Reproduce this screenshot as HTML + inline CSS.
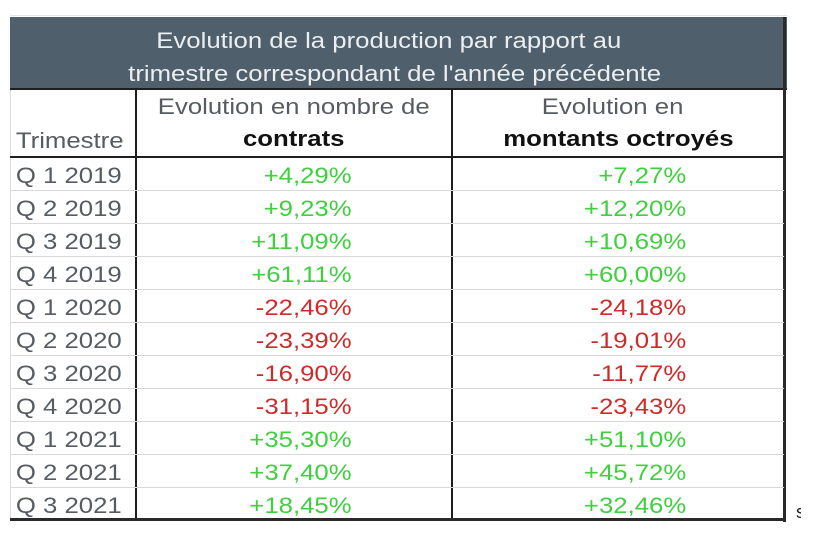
<!DOCTYPE html>
<html><head><meta charset="utf-8"><style>
html,body{margin:0;padding:0;background:#fff;width:817px;height:540px;overflow:hidden;position:relative;}
.abs{position:absolute;}
.hdr{left:10px;top:17px;width:777px;height:72px;background:#4f5f6b;}
.hl{position:absolute;height:2px;background:#1e1e1e;}
.vl{position:absolute;width:2px;background:#1e1e1e;}
.rl{position:absolute;left:11px;width:773px;height:1px;background:#d9d9d9;}
#t{position:absolute;left:10px;top:0;width:664px;height:540px;transform:scaleX(1.17);transform-origin:0 0;
 font-family:"Liberation Sans",Arial,sans-serif;font-size:22px;line-height:22px;}
#t div{position:absolute;white-space:nowrap;}
.w{color:#eceff1;}
.g1{color:#565c62;}
.b{font-weight:bold;color:#111;}
.lab{left:5px;color:#565c62;}
.c1{left:0;width:292px;text-align:right;}
.c2{left:0;width:578px;text-align:right;}
.gr{color:#3fcf3f;}
.rd{color:#cf2a2a;}
</style></head><body>
<div class="abs" style="left:10px;top:15px;width:777px;height:1px;background:#e4e4e4;"></div>
<div class="abs hdr"></div>
<div class="abs" style="left:10px;top:89px;width:1px;height:431px;background:#dcdcdc;"></div>
<div class="hl" style="left:10px;top:88px;width:777px;"></div>
<div class="hl" style="left:10px;top:156px;width:776px;"></div>
<div class="vl" style="left:135px;top:89px;height:432px;"></div>
<div class="vl" style="left:451px;top:89px;height:432px;"></div>
<div class="abs" style="left:783px;top:17px;width:3px;height:505px;background:#2a2a2a;"></div>
<div class="abs" style="left:10px;top:518px;width:776px;height:3px;background:#2a2a2a;"></div>
<div class="rl" style="top:190px;"></div>
<div class="rl" style="top:223px;"></div>
<div class="rl" style="top:256px;"></div>
<div class="rl" style="top:289px;"></div>
<div class="rl" style="top:322px;"></div>
<div class="rl" style="top:355px;"></div>
<div class="rl" style="top:388px;"></div>
<div class="rl" style="top:421px;"></div>
<div class="rl" style="top:454px;"></div>
<div class="rl" style="top:487px;"></div>
<div class="abs" style="left:796px;top:503px;width:5px;height:18px;overflow:hidden;font-family:'Liberation Sans',sans-serif;font-size:18px;line-height:18px;color:#222;">s</div>

<div id="t">
<div class="w" style="left:125px;top:30px;">Evolution de la production par rapport au</div>
<div class="w" style="left:101px;top:63px;">trimestre correspondant de l'année précédente</div>

<div class="g1" style="left:107px;width:271px;text-align:center;top:96px;">Evolution en nombre de</div>
<div class="b" style="left:107px;width:271px;text-align:center;top:128px;">contrats</div>
<div class="lab" style="top:130px;">Trimestre</div>
<div class="g1" style="left:378px;width:274px;text-align:center;top:96px;">Evolution en</div>
<div class="b" style="left:378px;width:284px;text-align:center;top:128px;">montants octroyés</div>

<div class="lab" style="top:165px;">Q 1 2019</div>
<div class="c1 gr" style="top:165px;">+4,29%</div>
<div class="c2 gr" style="top:165px;">+7,27%</div>

<div class="lab" style="top:198px;">Q 2 2019</div>
<div class="c1 gr" style="top:198px;">+9,23%</div>
<div class="c2 gr" style="top:198px;">+12,20%</div>

<div class="lab" style="top:231px;">Q 3 2019</div>
<div class="c1 gr" style="top:231px;">+11,09%</div>
<div class="c2 gr" style="top:231px;">+10,69%</div>

<div class="lab" style="top:264px;">Q 4 2019</div>
<div class="c1 gr" style="top:264px;">+61,11%</div>
<div class="c2 gr" style="top:264px;">+60,00%</div>

<div class="lab" style="top:297px;">Q 1 2020</div>
<div class="c1 rd" style="top:297px;">-22,46%</div>
<div class="c2 rd" style="top:297px;">-24,18%</div>

<div class="lab" style="top:330px;">Q 2 2020</div>
<div class="c1 rd" style="top:330px;">-23,39%</div>
<div class="c2 rd" style="top:330px;">-19,01%</div>

<div class="lab" style="top:363px;">Q 3 2020</div>
<div class="c1 rd" style="top:363px;">-16,90%</div>
<div class="c2 rd" style="top:363px;">-11,77%</div>

<div class="lab" style="top:396px;">Q 4 2020</div>
<div class="c1 rd" style="top:396px;">-31,15%</div>
<div class="c2 rd" style="top:396px;">-23,43%</div>

<div class="lab" style="top:429px;">Q 1 2021</div>
<div class="c1 gr" style="top:429px;">+35,30%</div>
<div class="c2 gr" style="top:429px;">+51,10%</div>

<div class="lab" style="top:462px;">Q 2 2021</div>
<div class="c1 gr" style="top:462px;">+37,40%</div>
<div class="c2 gr" style="top:462px;">+45,72%</div>

<div class="lab" style="top:495px;">Q 3 2021</div>
<div class="c1 gr" style="top:495px;">+18,45%</div>
<div class="c2 gr" style="top:495px;">+32,46%</div>
</div>
</body></html>
